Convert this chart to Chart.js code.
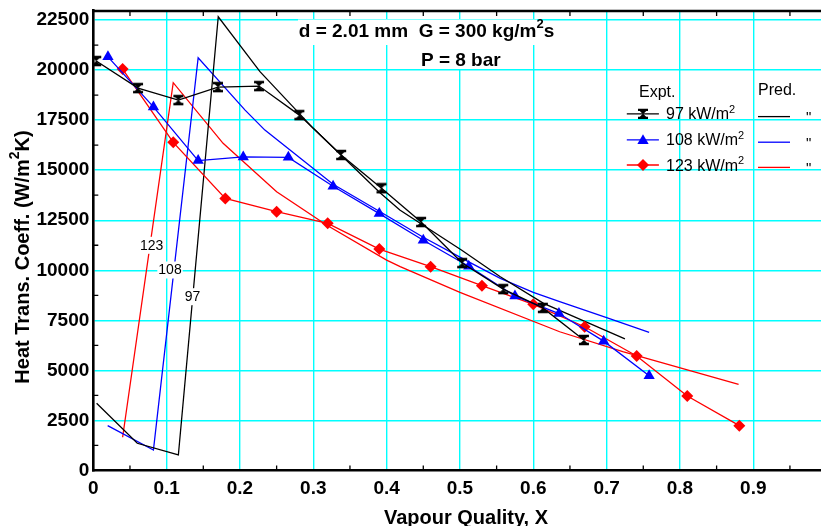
<!DOCTYPE html>
<html><head><meta charset="utf-8">
<script src="https://cdn.jsdelivr.net/npm/chart.js@4.4.1/dist/chart.umd.min.js"></script>
<style>html,body{margin:0;padding:0;overflow:hidden;background:#fff}canvas{display:block}</style>
</head><body>
<canvas id="c" width="850" height="540" style="width:850px;height:540px"></canvas>
<script>
// ---- axis ticks ----
const xTicks = [0, 0.1, 0.2, 0.3, 0.4, 0.5, 0.6, 0.7, 0.8, 0.9, 1.0];
const xTickLabels = ['0', '0.1', '0.2', '0.3', '0.4', '0.5', '0.6', '0.7', '0.8', '0.9', '1'];
const yTicks = [0, 2500, 5000, 7500, 10000, 12500, 15000, 17500, 20000, 22500];
const yTickLabels = ['0', '2500', '5000', '7500', '10000', '12500', '15000', '17500', '20000', '22500'];

// ---- series names ----
const seriesNames = ['97 kW/m', '108 kW/m', '123 kW/m']; // followed by superscript 2
const curveLabels = ['97', '108', '123'];

// ---- experimental data ----
const x97e = [0.004, 0.061, 0.116, 0.170, 0.226, 0.281, 0.338, 0.393, 0.447, 0.503, 0.559, 0.613, 0.669];
const y97e = [20450, 19100, 18500, 19150, 19200, 17750, 15760, 14100, 12410, 10360, 9060, 8120, 6520];

const x108e = [0.020, 0.082, 0.143, 0.2045, 0.266, 0.327, 0.390, 0.450, 0.512, 0.575, 0.635, 0.696, 0.758];
const y108e = [20660, 18160, 15480, 15660, 15640, 14200, 12830, 11500, 10200, 8710, 7840, 6460, 4730];

const x123e = [0.040, 0.109, 0.180, 0.250, 0.3196, 0.390, 0.460, 0.530, 0.600, 0.670, 0.741, 0.810, 0.881];
const y123e = [20050, 16390, 13590, 12925, 12345, 11060, 10180, 9230, 8300, 7180, 5720, 3720, 2240];

// ---- predicted data ----
const x97p = [0.0045, 0.060, 0.116, 0.1704, 0.2273, 0.300, 0.391, 0.418, 0.502, 0.555, 0.614, 0.725];
const y97p = [3360, 1360, 775, 22660, 19920, 17090, 13870, 13010, 11010, 9680, 8350, 6570];

const x108p = [0.0196, 0.082, 0.143, 0.207, 0.234, 0.327, 0.390, 0.450, 0.512, 0.555, 0.600, 0.636, 0.700, 0.758];
const y108p = [2240, 1024, 20615, 18000, 17000, 14300, 12950, 11650, 10420, 9600, 8900, 8430, 7630, 6900];

const x123p = [0.040, 0.109, 0.177, 0.250, 0.318, 0.400, 0.4185, 0.500, 0.636, 0.722, 0.880];
const y123p = [1660, 19370, 16340, 13920, 12260, 10510, 10180, 8900, 6930, 5935, 4305];

const pts = (xs, ys) => xs.map((x, i) => ({x: x, y: ys[i]}));

const FONT = '"Liberation Sans", Arial, Helvetica, sans-serif';
const BLACK = '#000000', BLUE = '#0000ff', RED = '#ff0000', CYAN = '#00ffff';

function drawHourglass(ctx, cx, cy) {
  ctx.save();
  ctx.fillStyle = BLACK; ctx.strokeStyle = BLACK; ctx.lineWidth = 2.4;
  ctx.beginPath();
  ctx.moveTo(cx - 5, cy - 4); ctx.lineTo(cx + 5, cy - 4);
  ctx.moveTo(cx - 5, cy + 4); ctx.lineTo(cx + 5, cy + 4);
  ctx.stroke();
  ctx.beginPath();
  ctx.moveTo(cx - 4.2, cy - 4); ctx.lineTo(cx + 4.2, cy - 4); ctx.lineTo(cx, cy + 0.3); ctx.closePath();
  ctx.moveTo(cx - 4.2, cy + 4); ctx.lineTo(cx + 4.2, cy + 4); ctx.lineTo(cx, cy - 0.3); ctx.closePath();
  ctx.fill();
  ctx.restore();
}
const hg = document.createElement('canvas');
hg.width = 12; hg.height = 12;
drawHourglass(hg.getContext('2d'), 6, 6);

function drawTri(ctx, cx, cy, r, color) {
  ctx.save(); ctx.fillStyle = color; ctx.beginPath();
  for (let k = 0; k < 3; k++) {
    const a = k * 2 * Math.PI / 3;
    const px = cx + Math.sin(a) * r, py = cy - Math.cos(a) * r;
    k ? ctx.lineTo(px, py) : ctx.moveTo(px, py);
  }
  ctx.closePath(); ctx.fill(); ctx.restore();
}
function drawDiamond(ctx, cx, cy, r, color) {
  ctx.save(); ctx.fillStyle = color; ctx.beginPath();
  ctx.moveTo(cx - r, cy); ctx.lineTo(cx, cy - r); ctx.lineTo(cx + r, cy); ctx.lineTo(cx, cy + r);
  ctx.closePath(); ctx.fill(); ctx.restore();
}

// draw text made of parts; sup parts smaller and raised. align: 'left' | 'center'
function richText(ctx, parts, x, y, size, weight, align) {
  const fonts = parts.map(p => (weight ? weight + ' ' : '') + (p.sup ? Math.round(size * 0.68) : size) + 'px ' + FONT);
  let total = 0;
  const widths = parts.map((p, i) => { ctx.font = fonts[i]; const w = ctx.measureText(p.t).width; total += w; return w; });
  let cx = align === 'center' ? x - total / 2 : x;
  ctx.textAlign = 'left';
  parts.forEach((p, i) => {
    ctx.font = fonts[i];
    ctx.fillText(p.t, cx, p.sup ? y - size * 0.42 : y);
    cx += widths[i];
  });
}

const decor = {
  id: 'decor',
  afterDatasetsDraw(chart) {
    const ctx = chart.ctx;
    const xs = chart.scales.x, ys = chart.scales.y;
    const ca = chart.chartArea;
    ctx.save();
    // top border
    ctx.strokeStyle = BLACK; ctx.lineWidth = 2.6;
    ctx.beginPath(); ctx.moveTo(ca.left - 1.3, ca.top + 1); ctx.lineTo(chart.width, ca.top + 1); ctx.stroke();
    // minor ticks
    ctx.lineWidth = 1.3;
    ctx.beginPath();
    for (let k = 0; k < 10; k++) {
      const px = xs.getPixelForValue(0.05 + 0.1 * k);
      ctx.moveTo(px, ca.bottom); ctx.lineTo(px, ca.bottom - 5);
      ctx.moveTo(px, ca.top + 1); ctx.lineTo(px, ca.top + 6);
    }
    for (let k = 0; k < 9; k++) {
      const py = ys.getPixelForValue(1250 + 2500 * k);
      ctx.moveTo(ca.left, py); ctx.lineTo(ca.left + 5, py);
    }
    ctx.stroke();

    // header texts with white boxes
    ctx.fillStyle = '#fff';
    ctx.fillRect(298, 19.5, 239, 25.5);
    ctx.fillRect(416, 45, 89, 24);
    ctx.fillStyle = BLACK;
    ctx.textBaseline = 'middle';
    richText(ctx, [{t: 'd = 2.01 mm  G = 300 kg/m'}, {t: '2', sup: true}, {t: 's'}], 426.5, 32, 19, 'bold', 'center');
    richText(ctx, [{t: 'P = 8 bar'}], 460.8, 60.5, 19, 'bold', 'center');

    // curve labels
    ctx.font = '14px ' + FONT;
    ctx.textAlign = 'center';
    const lab = [[curveLabels[2], 151.7, 245.3], [curveLabels[1], 170, 270], [curveLabels[0], 192.5, 296.7]];
    lab.forEach(([t, cx, cy]) => {
      const w = ctx.measureText(t).width;
      ctx.fillStyle = '#fff';
      ctx.fillRect(cx - w / 2 - 1, cy - 8.5, w + 2, 17);
      ctx.fillStyle = BLACK;
      ctx.fillText(t, cx, cy + 0.5);
    });

    // legend
    ctx.font = '16px ' + FONT;
    ctx.textAlign = 'left'; ctx.textBaseline = 'alphabetic';
    ctx.fillText('Expt.', 639, 96.6);
    ctx.fillText('Pred.', 758, 95);
    const rows = [
      {y: 113.9, base: 119.3, py: 116.6, dq: 121.5, color: BLACK, m: 'h'},
      {y: 139.8, base: 145.3, py: 142.2, dq: 147.5, color: BLUE, m: 't'},
      {y: 165.0, base: 170.8, py: 167.4, dq: 172.5, color: RED, m: 'd'}
    ];
    rows.forEach((r, i) => {
      ctx.strokeStyle = r.color; ctx.lineWidth = 1.3;
      ctx.beginPath(); ctx.moveTo(626.8, r.y); ctx.lineTo(658.9, r.y); ctx.stroke();
      ctx.beginPath(); ctx.moveTo(758, r.py); ctx.lineTo(790, r.py); ctx.stroke();
      if (r.m === 'h') drawHourglass(ctx, 643, r.y);
      else if (r.m === 't') drawTri(ctx, 643, r.y + 1, 6.5, r.color);
      else drawDiamond(ctx, 643, r.y, 6, r.color);
      ctx.fillStyle = BLACK;
      richText(ctx, [{t: seriesNames[i]}, {t: '2', sup: true}], 666, r.base, 16, '', 'left');
      ctx.font = '15px ' + FONT;
      ctx.fillText('"', 806, r.dq);
    });

    // axis titles
    ctx.textBaseline = 'middle';
    richText(ctx, [{t: 'Vapour Quality, X'}], 466, 518, 20, 'bold', 'center');
    ctx.save();
    ctx.translate(23.5, 257);
    ctx.rotate(-Math.PI / 2);
    richText(ctx, [{t: 'Heat Trans. Coeff. (W/m'}, {t: '2', sup: true}, {t: 'K)'}], 0, 0, 20, 'bold', 'center');
    ctx.restore();
    ctx.restore();
  }
};

const lineDs = (label, data, color, extra) => Object.assign({
  label: label, data: data, showLine: true, borderColor: color, backgroundColor: color,
  borderWidth: 1.3, tension: 0, pointRadius: 0, pointHoverRadius: 0, fill: false
}, extra || {});

new Chart(document.getElementById('c'), {
  type: 'scatter',
  data: {
    datasets: [
      lineDs('97 expt', pts(x97e, y97e), BLACK, {pointStyle: hg, pointRadius: 6}),
      lineDs('108 expt', pts(x108e, y108e), BLUE, {pointStyle: 'triangle', pointRadius: 6.5, pointBorderWidth: 0}),
      lineDs('123 expt', pts(x123e, y123e), RED, {pointStyle: 'rectRot', pointRadius: 6, pointBorderWidth: 0}),
      lineDs('97 pred', pts(x97p, y97p), BLACK),
      lineDs('108 pred', pts(x108p, y108p), BLUE),
      lineDs('123 pred', pts(x123p, y123p), RED)
    ]
  },
  options: {
    responsive: false, devicePixelRatio: 1, animation: false,
    events: [],
    layout: {padding: {top: 10, right: 850 - 826.6, left: 0, bottom: 0}},
    plugins: {legend: {display: false}, tooltip: {enabled: false}, title: {display: false}},
    scales: {
      x: {
        type: 'linear', min: 0, max: 1,
        afterBuildTicks: s => { s.ticks = xTicks.map(v => ({value: v})); },
        afterFit: s => { s.height = 540 - 470.5; s.paddingLeft = 0; s.paddingRight = 0; },
        ticks: {
          callback: (v, i) => xTickLabels[i], autoSkip: false, maxRotation: 0, minRotation: 0,
          color: BLACK, padding: 7, font: {family: FONT, size: 19, weight: 'bold'}
        },
        grid: {color: c => (c.tick && c.tick.value === 0) ? 'rgba(0,0,0,0)' : CYAN, lineWidth: 1.4, drawTicks: false},
        border: {color: BLACK, width: 2.6}
      },
      y: {
        type: 'linear', min: 0, max: 23000,
        ticks: {
          includeBounds: false,
          callback: (v, i) => yTickLabels[i], autoSkip: false,
          color: BLACK, padding: 4, font: {family: FONT, size: 19, weight: 'bold'}
        },
        afterBuildTicks: s => { s.ticks = yTicks.map(v => ({value: v})); },
        afterFit: s => { s.width = 93.3; s.paddingTop = 0; s.paddingBottom = 0; },
        grid: {color: c => (c.tick && c.tick.value === 0) ? 'rgba(0,0,0,0)' : CYAN, lineWidth: 1.4, drawTicks: false},
        border: {color: BLACK, width: 2.6}
      }
    }
  },
  plugins: [decor]
});
</script>
</body></html>
